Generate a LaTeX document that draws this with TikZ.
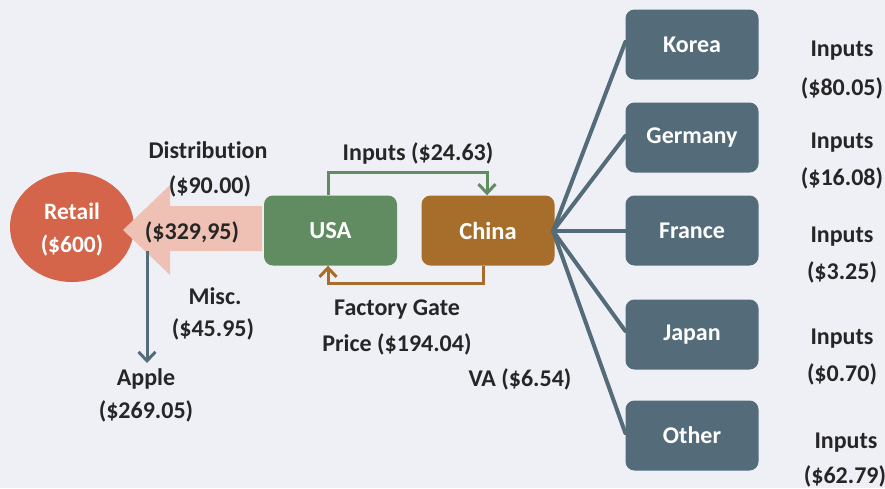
\documentclass[tikz,border=0pt]{standalone}
\usepackage{fontspec}
\setmainfont{Carlito}[Ligatures=NoCommon]
\usetikzlibrary{arrows.meta,shapes.geometric}
\definecolor{bg}{RGB}{239,240,246}
\definecolor{retailc}{RGB}{212,100,74}
\definecolor{flowc}{RGB}{239,192,180}
\definecolor{usac}{RGB}{97,139,96}
\definecolor{chinac}{RGB}{167,110,43}
\definecolor{slatec}{RGB}{84,108,122}
\definecolor{txt}{RGB}{38,38,38}
\tikzset{
  country/.style={rounded corners=9pt, minimum width=133pt, minimum height=70pt,
    inner sep=0pt, text=white, font=\bfseries\fontsize{24}{29}\selectfont},
  lbl/.style={text=txt, font=\bfseries\fontsize{24}{29}\selectfont, align=center, inner sep=0pt},
  feed/.style={draw=slatec, line width=4pt},
  barb/.style={-{Straight Barb[length=9pt,width=17pt,line width=3pt]}},
  loopline/.style={line width=3pt, barb}
}
\begin{document}
\begin{tikzpicture}[x=1pt,y=-1pt]
\fill[bg] (0,0) rectangle (885,488);
\useasboundingbox (0,0) rectangle (885,488);

% retail end point
\node[ellipse, fill=retailc, minimum width=124pt, minimum height=110pt, inner sep=0pt,
  text=white, font=\bfseries\fontsize{23.5}{29}\selectfont, align=center] (retail) at (72,227)
  {};
\node[text=white, font=\bfseries\fontsize{23.5}{29}\selectfont, align=center, inner sep=0pt]
  (retailtxt) at (72,230) {Retail\\[4pt](\$600)};

% broad distribution arrow into retail
\fill[flowc] (262,206) -- (170,206) -- (170,185) -- (123,230) -- (170,275) -- (170,251) -- (262,251) -- cycle;
\coordinate (flowtip) at (123,230);

% production chain
\node[country, fill=usac, font=\bfseries\fontsize{24.5}{29}\selectfont] (usa) at (330.5,230.5) {USA};
\node[country, fill=chinac, font=\bfseries\fontsize{24.5}{29}\selectfont] (china) at (488,230.5) {China};

\node[country, fill=slatec] (korea) at (692,44.5) {Korea};
\node[country, fill=slatec] (germany) at (692,137.5) {Germany};
\node[country, fill=slatec] (france) at (692,230.5) {France};
\node[country, fill=slatec] (japan) at (692,334.5) {Japan};
\node[country, fill=slatec] (other) at (692,435.5) {Other};

% supplier feeds into China
\coordinate (hub) at (553,231);
\foreach \c/\yy in {korea/42, germany/136, france/231, japan/331, other/433}
  \draw[feed, line cap=round] (hub) -- (\c.west |- 0,\yy);

% USA <-> China loops
\draw[loopline, draw=usac] ([xshift=-2.5pt]usa.north) -- ++(0,-23) -| ([xshift=-1pt]china.north);
\draw[loopline, draw=chinac] ([xshift=-5pt]china.south) -- ++(0,18) -| ([xshift=-2.5pt]usa.south);

% Apple's share
\coordinate (applefrom) at (147,251);
\coordinate (appleto) at (147,363);
\draw[draw=slatec, line width=3pt, barb] (applefrom) -- (appleto);

% labels
\node[lbl] (dist) at (208,150) {Distribution};
\node[lbl] (dist2) at (210,186) {(\$90.00)};
\node[lbl] (flowlbl) at (192,232) {(\$329,95)};
\node[lbl] (misc) at (215,296) {Misc.};
\node[lbl] (misc2) at (213,329) {(\$45.95)};
\node[lbl] (apple) at (146,379) {Apple};
\node[lbl] (apple2) at (146,411) {(\$269.05)};
\node[lbl] (inp) at (418,153) {Inputs (\$24.63)};
\node[lbl] (fg) at (397,310) {Factory Gate};
\node[lbl] (fg2) at (397,344) {Price (\$194.04)};
\node[lbl] (va) at (520,379) {VA (\$6.54)};

\node[lbl] (ki) at (842,51) {Inputs};
\node[lbl] (kv) at (842,88) {(\$80.05)};
\node[lbl] (gi) at (842,143) {Inputs};
\node[lbl] (gv) at (842,178) {(\$16.08)};
\node[lbl] (fi) at (842,237) {Inputs};
\node[lbl] (fv) at (842,272) {(\$3.25)};
\node[lbl] (ji) at (842,339) {Inputs};
\node[lbl] (jv) at (842,374) {(\$0.70)};
\node[lbl] (oi) at (846,443) {Inputs};
\node[lbl] (ov) at (845,476) {(\$62.79)};
\end{tikzpicture}
\end{document}
